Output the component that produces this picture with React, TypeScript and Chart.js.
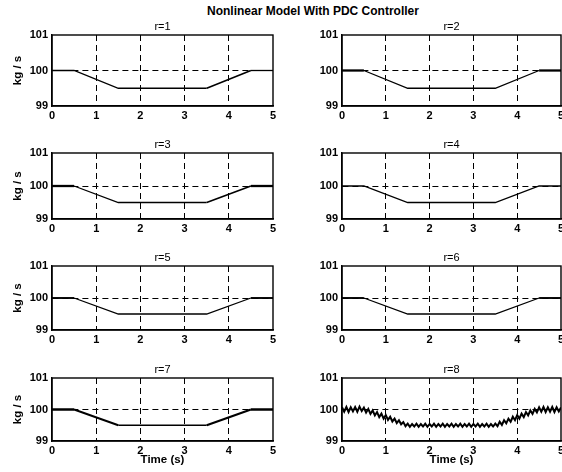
import React, { useEffect, useRef } from "react";
import { Chart, registerables } from "chart.js";

Chart.register(...registerables);

// ---------- data ----------
const mainTitle = "Nonlinear Model With PDC Controller";
const subplotTitles = ["r=1", "r=2", "r=3", "r=4", "r=5", "r=6", "r=7", "r=8"];
const yAxisLabel = "kg / s";
const xAxisLabel = "Time (s)";
const timeTicks = [0, 1, 2, 3, 4, 5];
const flowTicks = [99, 100, 101];

// breakpoints of the response for r=1 .. r=7
const baseTimes = [0, 0.5, 1.5, 3.5, 4.5, 5];
const baseFlow = [100, 100, 99.5, 99.5, 100, 100];

// r=8 response (strong chattering), read point by point
const r8Times = [
  0, 0.05, 0.1, 0.15, 0.2, 0.25, 0.3, 0.35, 0.4, 0.45,
  0.5, 0.55, 0.6, 0.65, 0.7, 0.75, 0.8, 0.85, 0.9, 0.95,
  1, 1.05, 1.1, 1.15, 1.2, 1.25, 1.3, 1.35, 1.4, 1.45,
  1.5, 1.55, 1.6, 1.65, 1.7, 1.75, 1.8, 1.85, 1.9, 1.95,
  2, 2.05, 2.1, 2.15, 2.2, 2.25, 2.3, 2.35, 2.4, 2.45,
  2.5, 2.55, 2.6, 2.65, 2.7, 2.75, 2.8, 2.85, 2.9, 2.95,
  3, 3.05, 3.1, 3.15, 3.2, 3.25, 3.3, 3.35, 3.4, 3.45,
  3.5, 3.55, 3.6, 3.65, 3.7, 3.75, 3.8, 3.85, 3.9, 3.95,
  4, 4.05, 4.1, 4.15, 4.2, 4.25, 4.3, 4.35, 4.4, 4.45,
  4.5, 4.55, 4.6, 4.65, 4.7, 4.75, 4.8, 4.85, 4.9, 4.95,
  5,
];
const r8Flow = [
  100.07, 99.93, 100.08, 99.92, 100.07, 99.94, 100.08, 99.93, 100.09, 99.95,
  100.06, 99.9, 100.02, 99.86, 99.97, 99.81, 99.92, 99.76, 99.87, 99.71,
  99.82, 99.67, 99.77, 99.62, 99.71, 99.57, 99.66, 99.53, 99.6, 99.47,
  99.55, 99.45, 99.54, 99.46, 99.55, 99.45, 99.54, 99.46, 99.55, 99.45,
  99.54, 99.46, 99.55, 99.45, 99.54, 99.46, 99.55, 99.45, 99.54, 99.46,
  99.55, 99.45, 99.54, 99.46, 99.55, 99.45, 99.54, 99.46, 99.55, 99.45,
  99.54, 99.46, 99.55, 99.45, 99.54, 99.46, 99.55, 99.45, 99.54, 99.46,
  99.55, 99.47, 99.61, 99.51, 99.66, 99.56, 99.71, 99.61, 99.77, 99.66,
  99.82, 99.71, 99.87, 99.76, 99.92, 99.81, 99.97, 99.86, 100.02, 99.91,
  100.07, 99.93, 100.08, 99.92, 100.07, 99.93, 100.08, 99.92, 100.07, 99.94,
  100.06,
];

// ---------- styles / layout ----------
const FONT = "'Liberation Sans', Arial, Helvetica, sans-serif";
// line width per segment (thicker where the response chatters)
const segmentWidths: (number[] | null)[] = [
  [1.3, 1.3, 1.3, 1.6, 1.3],
  [2.3, 1.3, 1.3, 1.3, 2.3],
  [2.3, 1.3, 1.3, 1.6, 2.3],
  [1.3, 1.3, 1.3, 1.3, 1.3],
  [1.9, 1.3, 1.3, 1.3, 1.9],
  [1.9, 1.3, 1.3, 1.3, 1.9],
  [2.5, 1.9, 1.3, 2.3, 2.5],
  null,
];
const R8_WIDTH = 2;
const COLS = [
  { left: 52, width: 221 },
  { left: 342, width: 219 },
];
const ROWS = [
  { top: 35, height: 71 },
  { top: 153, height: 66 },
  { top: 266, height: 64 },
  { top: 378, height: 63 },
];
const LEFT_W = 52;
const TOP_H = 16;
const RIGHT_PAD = 8;

const boxPlugin = {
  id: "box",
  afterDraw(chart: any) {
    const { ctx, chartArea } = chart;
    ctx.save();
    ctx.strokeStyle = "#000";
    ctx.lineWidth = 1.4;
    ctx.strokeRect(chartArea.left, chartArea.top, chartArea.right - chartArea.left, chartArea.bottom - chartArea.top);
    ctx.restore();
  },
};

function Panel({ index }: { index: number }) {
  const ref = useRef<HTMLCanvasElement | null>(null);
  const col = index % 2;
  const row = Math.floor(index / 2);
  const isBottom = row === 3;
  const isLeft = col === 0;
  const xh = isBottom ? 30 : 18;
  const width = LEFT_W + COLS[col].width + RIGHT_PAD;
  const height = TOP_H + ROWS[row].height + xh;
  const left = COLS[col].left - LEFT_W;
  const top = ROWS[row].top - TOP_H;

  useEffect(() => {
    const times = index === 7 ? r8Times : baseTimes;
    const flows = index === 7 ? r8Flow : baseFlow;
    const widths = segmentWidths[index];
    const chart = new Chart(ref.current as HTMLCanvasElement, {
      type: "line",
      data: {
        datasets: [
          {
            data: times.map((t, i) => ({ x: t, y: flows[i] })),
            borderColor: "#000",
            borderWidth: widths ? 1.3 : R8_WIDTH,
            pointRadius: 0,
            tension: 0,
            segment: {
              borderWidth: (c: any) => (widths ? widths[c.p0DataIndex] : R8_WIDTH),
            },
          } as any,
        ],
      },
      options: {
        responsive: false,
        animation: false,
        devicePixelRatio: 1,
        layout: { padding: { left: 0, right: RIGHT_PAD, top: 0, bottom: 0 } },
        plugins: {
          legend: { display: false },
          tooltip: { enabled: false },
          title: {
            display: true,
            fullSize: false,
            text: subplotTitles[index],
            color: "#000",
            font: { family: FONT, size: 11, weight: "normal" },
            padding: { top: 1, bottom: 1.8 },
          },
        },
        scales: {
          x: {
            type: "linear",
            min: 0,
            max: 5,
            afterBuildTicks: (s: any) => {
              s.ticks = timeTicks.map((v) => ({ value: v }));
            },
            afterFit: (s: any) => {
              s.height = xh;
            },
            ticks: {
              color: "#000",
              font: { family: FONT, size: 11, weight: "bold" },
              padding: 3,
              maxRotation: 0,
              autoSkip: false,
            },
            grid: {
              drawTicks: false,
              lineWidth: 1,
              color: (c: any) =>
                c.tick && (c.tick.value === 0 || c.tick.value === 5) ? "rgba(0,0,0,0)" : "#000",
            },
            border: { display: true, color: "#000", width: 1.4, dash: [6, 4] },
            title: {
              display: isBottom,
              text: xAxisLabel,
              color: "#000",
              font: { family: FONT, size: 11.5, weight: "bold" },
              padding: { top: 0, bottom: 4 },
            },
          },
          y: {
            type: "linear",
            min: 99,
            max: 101,
            afterBuildTicks: (s: any) => {
              s.ticks = flowTicks.map((v) => ({ value: v }));
            },
            afterFit: (s: any) => {
              s.width = LEFT_W;
            },
            ticks: {
              color: "#000",
              font: { family: FONT, size: 11, weight: "bold" },
              padding: 4,
            },
            grid: {
              drawTicks: false,
              lineWidth: 1,
              color: (c: any) =>
                c.tick && (c.tick.value === 99 || c.tick.value === 101) ? "rgba(0,0,0,0)" : "#000",
            },
            border: { display: true, color: "#000", width: 1.4, dash: [6, 4] },
            title: {
              display: isLeft,
              text: yAxisLabel,
              color: "#000",
              font: { family: FONT, size: 11.5, weight: "bold" },
              padding: { top: 11, bottom: 0 },
            },
          },
        },
      } as any,
      plugins: [boxPlugin],
    });
    return () => chart.destroy();
  }, [index]);

  return (
    <canvas
      ref={ref}
      width={width}
      height={height}
      style={{ position: "absolute", left, top, width, height }}
    />
  );
}

export default function App() {
  return (
    <div
      style={{
        position: "absolute",
        left: 0,
        top: 0,
        width: 562,
        height: 472,
        overflow: "hidden",
        background: "#fff",
      }}
    >
      <div
        style={{
          position: "absolute",
          left: 207,
          top: 4,
          whiteSpace: "nowrap",
          fontFamily: FONT,
          fontWeight: "bold",
          fontSize: 12,
          color: "#000",
        }}
      >
        {mainTitle}
      </div>
      {subplotTitles.map((_, i) => (
        <Panel key={i} index={i} />
      ))}
    </div>
  );
}
